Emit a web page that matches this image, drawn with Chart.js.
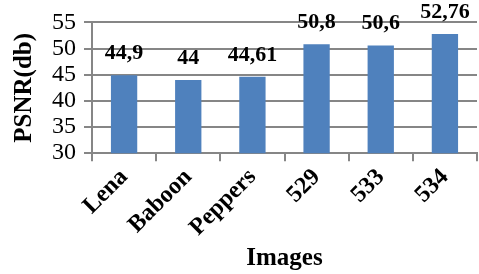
<!DOCTYPE html>
<html lang="en">
<head>
<meta charset="UTF-8">
<title>PSNR chart</title>
<script src="https://cdn.jsdelivr.net/npm/chart.js@4.4.1/dist/chart.umd.min.js"></script>
<style>
    body { margin: 0; background: #fff; }
</style>
</head>
<body>
<canvas id="psnr" width="479" height="274"></canvas>
<script>
var images = ["Lena", "Baboon", "Peppers", "529", "533", "534"];
var psnrValues = [44.9, 44, 44.61, 50.8, 50.6, 52.76];
var valueLabels = ["44,9", "44", "44,61", "50,8", "50,6", "52,76"];

var serif = "'Liberation Serif', 'Times New Roman', serif";

// writes the value above each bar, excel style
var barValues = {
    id: 'barValues',
    afterDatasetsDraw: function(chart) {
        var ctx = chart.ctx;
        var meta = chart.getDatasetMeta(0);
        ctx.save();
        ctx.font = "bold 22px " + serif;
        ctx.fillStyle = "#000";
        ctx.textAlign = "center";
        ctx.textBaseline = "alphabetic";
        meta.data.forEach(function(bar, i) {
            ctx.fillText(valueLabels[i], bar.x, bar.y - 16);
        });
        ctx.restore();
    }
};

new Chart(document.getElementById("psnr"), {
    type: 'bar',
    data: {
        labels: images,
        datasets: [{
            data: psnrValues,
            backgroundColor: "#4f81bd",
            categoryPercentage: 1,
            barPercentage: 0.41
        }]
    },
    options: {
        responsive: false,
        animation: false,
        layout: { padding: { top: 20, right: 2, left: 10, bottom: 0 } },
        plugins: {
            legend: { display: false },
            tooltip: { enabled: false }
        },
        scales: {
            x: {
                grid: {
                    drawOnChartArea: false,
                    color: "#868686",
                    lineWidth: 2,
                    tickLength: 8
                },
                border: { color: "#868686", width: 2 },
                ticks: {
                    color: "#000",
                    font: { family: serif, size: 24, weight: "bold" },
                    minRotation: 45,
                    maxRotation: 45,
                    padding: 2
                },
                title: {
                    display: true,
                    text: "Images",
                    color: "#000",
                    font: { family: serif, size: 25, weight: "bold" },
                    padding: { top: 0, bottom: 0 }
                }
            },
            y: {
                min: 30,
                max: 55,
                ticks: {
                    stepSize: 5,
                    autoSkip: false,
                    color: "#000",
                    font: { family: serif, size: 24 },
                    padding: 8
                },
                grid: {
                    color: "#868686",
                    lineWidth: 2,
                    tickLength: 8
                },
                border: { color: "#868686", width: 2 },
                title: {
                    display: true,
                    text: "PSNR(db)",
                    color: "#000",
                    font: { family: serif, size: 25, weight: "bold" },
                    padding: { top: 0, bottom: 4 }
                }
            }
        }
    },
    plugins: [barValues]
});
</script>
</body>
</html>
